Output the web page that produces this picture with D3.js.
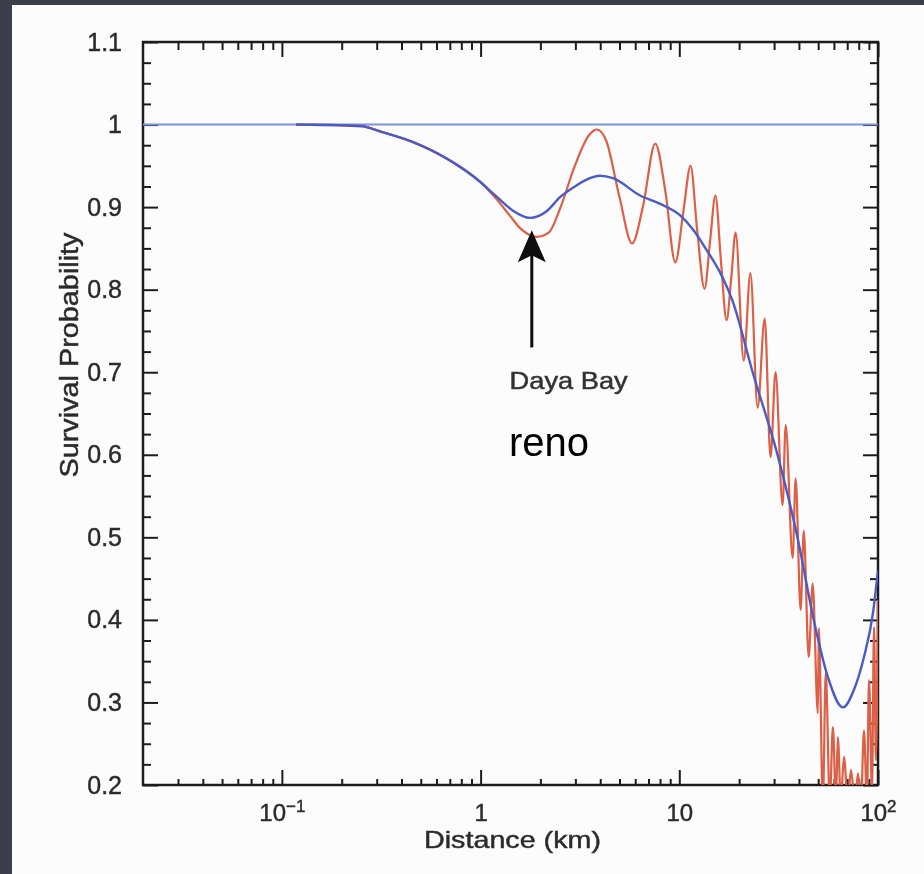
<!DOCTYPE html>
<html><head><meta charset="utf-8">
<script src="https://cdn.jsdelivr.net/npm/d3@7"></script>
<style>html,body{margin:0;padding:0;background:#3b3f4b;} svg{display:block;}</style>
</head><body>
<svg id="chart" width="924" height="874"></svg>
<script>
// ---- data ----
const redDistance = [0.118, 0.201, 0.254, 0.309, 0.454, 0.673, 0.99, 1.20, 1.40, 1.59, 1.92, 2.20, 2.51, 2.98, 3.51, 3.85, 4.28, 4.98, 5.79, 6.58, 7.57, 8.50, 9.55, 10.5, 11.4, 12.3, 13.4, 14.3, 15.2, 16.2, 17.3, 18.3, 19.2, 21.1, 22.8, 24.8, 26.9, 28.8, 30.5, 33.1, 34.3, 37.2, 38.5, 40.8, 42.3, 44.8, 46.9, 49.8, 50.4, 52.8, 54.6, 57.2, 59.3, 61.4, 62.8, 65.0, 67.4, 70.5, 73.1, 76.5, 79.3, 82.1, 85.0, 88.0, 90.1, 93.3, 95.5, 97.7, 100];
const redProb = [1.0, 0.999, 0.998, 0.992, 0.979, 0.959, 0.931, 0.910, 0.890, 0.874, 0.864, 0.869, 0.898, 0.950, 0.987, 0.994, 0.981, 0.914, 0.856, 0.902, 0.977, 0.920, 0.833, 0.896, 0.950, 0.872, 0.801, 0.860, 0.914, 0.835, 0.763, 0.817, 0.869, 0.714, 0.820, 0.657, 0.765, 0.597, 0.700, 0.539, 0.636, 0.475, 0.571, 0.412, 0.508, 0.355, 0.444, 0.287, 0.390, 0.18, 0.337, 0.18, 0.270, 0.18, 0.258, 0.18, 0.234, 0.18, 0.218, 0.18, 0.214, 0.18, 0.266, 0.18, 0.327, 0.194, 0.391, 0.230, 0.424];
const blueDistance = [0.118, 0.201, 0.254, 0.309, 0.454, 0.673, 0.99, 1.20, 1.45, 1.77, 2.15, 2.51, 2.98, 3.55, 3.99, 4.64, 6.35, 8.02, 10.1, 11.8, 13.8, 16.1, 18.5, 23.4, 31.3, 39.4, 47.5, 55.9, 66.6, 75.6, 85.0, 94.3, 100];
const blueProb = [1.0, 0.999, 0.998, 0.992, 0.979, 0.959, 0.931, 0.913, 0.896, 0.887, 0.895, 0.912, 0.925, 0.935, 0.938, 0.935, 0.914, 0.904, 0.890, 0.872, 0.847, 0.820, 0.787, 0.700, 0.599, 0.499, 0.400, 0.331, 0.294, 0.315, 0.355, 0.408, 0.460];
const unityDistance = [0.02, 100];
const unityProb = [1, 1];

const xDomain = [0.02, 100];
const yDomain = [0.2, 1.1];
const xTickValues = [0.1, 1, 10, 100];
const xTickBase = ["10", "1", "10", "10"];
const xTickExp = ["\u22121", "", "", "2"];
const yTickValues = [1.1, 1.0, 0.9, 0.8, 0.7, 0.6, 0.5, 0.4, 0.3, 0.2];
const yTickLabels = ["1.1", "1", "0.9", "0.8", "0.7", "0.6", "0.5", "0.4", "0.3", "0.2"];
const xTitle = "Distance (km)";
const yTitle = "Survival Probability";

const arrowDistance = 1.81;
const arrowTipProb = 0.872;
const arrowTailProb = 0.730;
const labelDaya = { text: "Daya Bay", distance: 1.40, prob: 0.680 };
const labelReno = { text: "reno", distance: 1.39, prob: 0.599 };

// ---- drawing ----
const svg = d3.select("#chart");
const W = 924, H = 874;
const m = { left: 143, right: 878, top: 42, bottom: 785 };
const FONT = "'Liberation Sans', Arial, Helvetica, sans-serif";
const INK = "#2c2c2c";

svg.append("rect").attr("width", W).attr("height", H).attr("fill", "#3b3f4b");
svg.append("rect").attr("x", 12).attr("y", 5).attr("width", W - 12).attr("height", H - 5).attr("fill", "#fcfcfc");

const defs = svg.append("defs");
defs.append("filter").attr("id", "soft").attr("x", "-5%").attr("y", "-5%").attr("width", "110%").attr("height", "110%")
  .append("feGaussianBlur").attr("stdDeviation", 0.55);
defs.append("clipPath").attr("id", "plotclip").append("rect")
  .attr("x", m.left).attr("y", m.top).attr("width", m.right - m.left).attr("height", m.bottom - m.top);

const x = d3.scaleLog().domain(xDomain).range([m.left, m.right]);
const y = d3.scaleLinear().domain(yDomain).range([m.bottom, m.top]);

const g = svg.append("g").attr("filter", "url(#soft)");

// minor tick values
const xMinor = [];
[0.01, 0.1, 1, 10].forEach(dec => { for (let k = 2; k <= 9; k++) { const v = dec * k; if (v > xDomain[0] * 1.001 && v < xDomain[1]) xMinor.push(v); } });
const yMinor = d3.range(0, 37).map(i => +(0.2 + i * 0.025).toFixed(3)).filter(v => Math.abs(v * 10 - Math.round(v * 10)) > 1e-6);

function styleAxis(sel) {
  sel.select(".domain").remove();
  sel.selectAll(".tick line").attr("stroke", "#1e1e1e").attr("stroke-width", 2);
}
function inkText(sel, size) {
  sel.attr("font-family", FONT).attr("font-size", size).attr("fill", INK)
    .attr("stroke", INK).attr("stroke-width", 0.45);
}

// bottom
g.append("g").attr("transform", `translate(0,${m.bottom})`)
  .call(d3.axisBottom(x).tickValues(xMinor).tickSize(-6).tickFormat("")).call(styleAxis);
const xAx = g.append("g").attr("transform", `translate(0,${m.bottom})`)
  .call(d3.axisBottom(x).tickValues(xTickValues).tickSize(-15).tickPadding(19).tickFormat((d, i) => xTickBase[i]))
  .call(styleAxis);
xAx.selectAll(".tick text").call(inkText, 24)
  .each(function (d, i) {
    if (xTickExp[i]) {
      d3.select(this).append("tspan").attr("dy", "-0.55em").attr("font-size", 17).text(xTickExp[i]);
    }
  });
// top
g.append("g").attr("transform", `translate(0,${m.top})`)
  .call(d3.axisTop(x).tickValues(xMinor).tickSize(-8).tickFormat("")).call(styleAxis);
g.append("g").attr("transform", `translate(0,${m.top})`)
  .call(d3.axisTop(x).tickValues(xTickValues).tickSize(-15).tickFormat("")).call(styleAxis);
// left
g.append("g").attr("transform", `translate(${m.left},0)`)
  .call(d3.axisLeft(y).tickValues(yMinor).tickSize(-8).tickFormat("")).call(styleAxis);
const yAx = g.append("g").attr("transform", `translate(${m.left},0)`)
  .call(d3.axisLeft(y).tickValues(yTickValues).tickSize(-15).tickPadding(21).tickFormat((d, i) => yTickLabels[i]))
  .call(styleAxis);
yAx.selectAll(".tick text").call(inkText, 25);
// right
g.append("g").attr("transform", `translate(${m.right},0)`)
  .call(d3.axisRight(y).tickValues(yMinor).tickSize(-8).tickFormat("")).call(styleAxis);
g.append("g").attr("transform", `translate(${m.right},0)`)
  .call(d3.axisRight(y).tickValues(yTickValues).tickSize(-15).tickFormat("")).call(styleAxis);

// frame
g.append("rect").attr("x", m.left).attr("y", m.top).attr("width", m.right - m.left).attr("height", m.bottom - m.top)
  .attr("fill", "none").attr("stroke", "#1e1e1e").attr("stroke-width", 2.5);

// curves
const line = d3.line().x(d => x(d[0])).y(d => y(d[1])).curve(d3.curveMonotoneX);
const plot = g.append("g").attr("clip-path", "url(#plotclip)");
plot.append("path").datum(unityDistance.map((d, i) => [d, unityProb[i]]))
  .attr("d", d3.line().x(d => x(d[0])).y(d => y(d[1])))
  .attr("fill", "none").attr("stroke", "#7f91e0").attr("stroke-width", 2);
plot.append("path").datum(redDistance.map((d, i) => [d, redProb[i]]))
  .attr("d", line).attr("fill", "none").attr("stroke", "#dd5e45").attr("stroke-width", 2.2).attr("stroke-linejoin", "round");
plot.append("path").datum(blueDistance.map((d, i) => [d, blueProb[i]]))
  .attr("d", line).attr("fill", "none").attr("stroke", "#4a5cc6").attr("stroke-width", 2.4);

// arrow
const ax = x(arrowDistance), tipY = y(arrowTipProb), tailY = y(arrowTailProb);
g.append("line").attr("x1", ax).attr("x2", ax).attr("y1", tailY).attr("y2", tipY + 20)
  .attr("stroke", "#111").attr("stroke-width", 3);
g.append("path").attr("d", `M${ax},${tipY} L${ax - 14},${tipY + 32} L${ax},${tipY + 25} L${ax + 14},${tipY + 32} Z`).attr("fill", "#111");

// annotation & titles
g.append("text").attr("x", x(labelDaya.distance)).attr("y", y(labelDaya.prob))
  .call(inkText, 23).attr("fill", "#333").attr("stroke", "#333")
  .attr("textLength", 118).attr("lengthAdjust", "spacingAndGlyphs").text(labelDaya.text);
g.append("text").attr("x", (m.left + m.right) / 2 + 2).attr("y", 848).attr("text-anchor", "middle")
  .call(inkText, 24)
  .attr("textLength", 177).attr("lengthAdjust", "spacingAndGlyphs").text(xTitle);
g.append("text").attr("transform", "translate(78,355) rotate(-90)").attr("text-anchor", "middle")
  .call(inkText, 25)
  .attr("textLength", 245).attr("lengthAdjust", "spacingAndGlyphs").text(yTitle);

svg.append("text").attr("x", x(labelReno.distance)).attr("y", y(labelReno.prob))
  .attr("font-family", FONT).attr("font-size", 40).attr("fill", "#000").text(labelReno.text);
</script>
</body></html>
